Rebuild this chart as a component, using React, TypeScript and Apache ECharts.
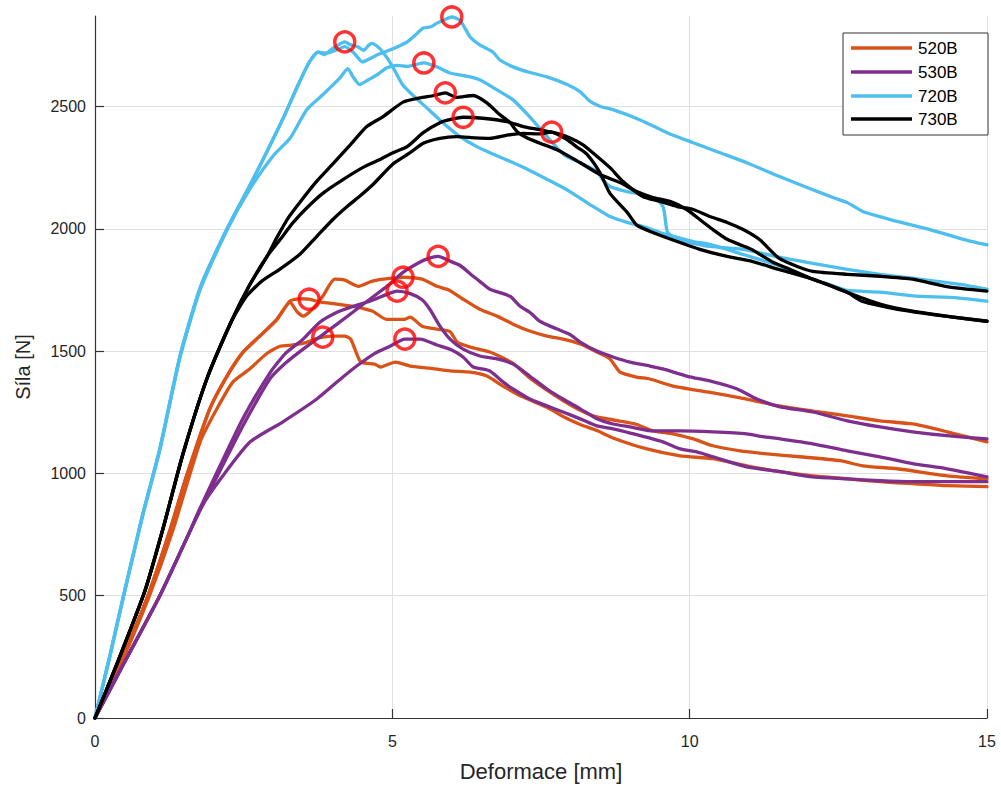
import React, { useEffect, useRef } from "react";
import * as echarts from "echarts";

// ---- data ----
const groupNames = ["520B", "530B", "720B", "730B"];
const groupColors = ["#D95319", "#7E2F8E", "#4DBEEE", "#000000"];
const xTicks = [0, 5, 10, 15];
const yTicks = [0, 500, 1000, 1500, 2000, 2500];

// 520B
const o1 = [[0,0],[0.45,240],[0.89,500],[1.25,760],[1.54,990],[1.93,1264],[2.22,1398],[2.49,1496],[2.77,1561],[3.06,1630],[3.28,1705],[3.45,1714],[3.6,1712],[3.8,1700],[4.07,1692],[4.4,1680],[4.67,1663],[4.9,1630],[5.2,1630],[5.3,1639],[5.5,1602],[5.75,1590],[5.97,1580],[6.09,1537],[6.31,1516],[6.64,1496],[7.03,1450],[7.31,1390],[7.6,1340],[7.87,1298],[8.16,1258],[8.44,1231],[8.8,1215],[9.11,1200],[9.38,1174],[9.72,1162],[10.06,1141],[10.39,1113],[10.85,1092],[11.3,1080],[11.85,1068],[12.53,1052],[12.91,1031],[13.49,1019],[14.33,990],[15,978]];
const o2 = [[0,0],[0.45,240],[0.89,500],[1.25,760],[1.54,990],[1.93,1264],[2.22,1398],[2.49,1496],[2.77,1561],[3.06,1630],[3.28,1700],[3.4,1660],[3.5,1643],[3.65,1670],[3.83,1724],[4.03,1794],[4.2,1790],[4.43,1765],[4.65,1785],[4.84,1794],[5.0,1798],[5.18,1802],[5.5,1794],[5.75,1765],[5.95,1750],[6.19,1712],[6.47,1671],[6.76,1643],[7.03,1610],[7.31,1582],[7.6,1561],[7.87,1549],[8.16,1529],[8.44,1496],[8.66,1468],[8.83,1414],[9.11,1394],[9.33,1386],[9.72,1357],[10.3,1333],[10.96,1304],[11.5,1276],[12.07,1255],[12.65,1235],[13.2,1215],[13.75,1202],[14.33,1170],[15,1129]];
const o3 = [[0,0],[0.45,230],[0.9,490],[1.3,760],[1.77,1130],[2.05,1264],[2.32,1374],[2.6,1427],[2.89,1490],[3.11,1520],[3.33,1525],[3.55,1535],[3.7,1549],[3.83,1557],[4.0,1561],[4.2,1561],[4.3,1549],[4.37,1508],[4.47,1455],[4.7,1447],[4.8,1435],[5.05,1455],[5.3,1439],[5.63,1430],[5.97,1419],[6.31,1414],[6.59,1398],[6.86,1357],[7.2,1312],[7.6,1270],[7.87,1233],[8.16,1200],[8.44,1175],[8.71,1145],[9.28,1100],[9.84,1072],[10.39,1060],[10.96,1031],[11.52,1007],[12.07,990],[12.65,978],[13.2,966],[13.75,958],[14.33,950],[15,946]];

// 530B
const u1 = [[0,0],[0.5,230],[1.09,500],[1.6,765],[1.77,850],[2.1,1010],[2.5,1200],[2.94,1386],[3.2,1450],[3.5,1508],[4.07,1610],[4.62,1712],[4.91,1765],[5.18,1822],[5.46,1863],[5.6,1878],[5.77,1887],[5.95,1870],[6.14,1850],[6.36,1806],[6.47,1785],[6.64,1753],[6.98,1724],[7.15,1683],[7.31,1659],[7.48,1622],[7.77,1590],[7.98,1569],[8.16,1537],[8.44,1500],[8.71,1476],[9.0,1455],[9.33,1439],[9.55,1427],[9.95,1398],[10.4,1374],[10.8,1345],[11.13,1304],[11.52,1272],[12.07,1251],[12.65,1215],[13.2,1190],[13.75,1170],[14.33,1154],[15,1141]];
const u2 = [[0,0],[0.5,230],[1.09,500],[1.6,765],[1.77,860],[2.1,1030],[2.5,1230],[2.94,1410],[3.2,1490],[3.5,1549],[3.78,1618],[4.07,1659],[4.34,1683],[4.62,1704],[4.91,1732],[5.08,1745],[5.3,1735],[5.5,1710],[5.63,1671],[5.8,1602],[5.97,1549],[6.19,1508],[6.47,1480],[6.76,1468],[7.03,1447],[7.31,1398],[7.6,1345],[7.87,1304],[8.16,1264],[8.44,1223],[8.71,1202],[9.0,1190],[9.38,1174],[9.84,1174],[10.39,1170],[10.96,1162],[11.23,1150],[11.52,1141],[12.07,1121],[12.65,1092],[13.2,1068],[13.75,1040],[14.33,1019],[15,986]];
const u3 = [[0,0],[0.5,230],[1.09,500],[1.6,765],[1.77,856],[2.15,990],[2.61,1129],[3.16,1211],[3.73,1304],[4.1,1380],[4.4,1439],[4.7,1490],[4.96,1520],[5.21,1549],[5.47,1549],[5.75,1525],[6.0,1505],[6.19,1476],[6.36,1435],[6.64,1419],[6.86,1374],[7.03,1345],[7.31,1304],[7.6,1276],[7.87,1251],[8.16,1223],[8.44,1194],[8.71,1182],[9.0,1165],[9.55,1129],[9.84,1100],[10.12,1088],[10.39,1068],[10.96,1027],[11.52,1007],[12.07,986],[12.65,978],[13.2,970],[13.75,966],[14.33,966],[15,966]];

// 720B
const c1 = [[0,0],[0.25,255],[0.48,500],[0.8,830],[1.09,1100],[1.43,1480],[1.77,1760],[2.22,2000],[2.61,2180],[2.9,2320],[3.16,2450],[3.4,2580],[3.6,2680],[3.75,2722],[3.9,2718],[4.05,2730],[4.2,2745],[4.35,2720],[4.5,2682],[4.62,2695],[4.74,2711],[4.96,2731],[5.1,2745],[5.25,2764],[5.4,2795],[5.52,2821],[5.65,2826],[5.75,2841],[5.88,2855],[6.0,2866],[6.14,2852],[6.22,2820],[6.31,2784],[6.47,2752],[6.69,2723],[6.81,2690],[7.03,2662],[7.3,2640],[7.6,2621],[7.94,2590],[8.16,2560],[8.32,2522],[8.5,2500],[8.71,2487],[9.16,2446],[9.62,2393],[10.06,2352],[10.51,2311],[10.96,2270],[11.52,2213],[12.07,2160],[12.41,2128],[12.65,2107],[12.91,2071],[13.2,2050],[13.49,2030],[14.04,1997],[14.6,1957],[15,1934]];
const c2 = [[0,0],[0.25,250],[0.48,497],[0.8,825],[1.09,1095],[1.43,1475],[1.77,1752],[2.22,1995],[2.61,2165],[3.0,2300],[3.28,2370],[3.56,2487],[3.83,2548],[4.12,2617],[4.25,2655],[4.34,2621],[4.45,2590],[4.57,2605],[4.74,2629],[4.91,2658],[5.08,2668],[5.25,2664],[5.4,2672],[5.53,2678],[5.75,2662],[5.97,2637],[6.31,2621],[6.47,2609],[6.76,2568],[7.03,2527],[7.31,2458],[7.52,2400],[7.7,2350],[7.9,2300],[8.16,2270],[8.44,2234],[8.54,2201],[8.66,2173],[8.95,2152],[9.21,2140],[9.45,2120],[9.55,2091],[9.58,2058],[9.6,2018],[9.63,1985],[9.79,1957],[10.34,1928],[10.9,1916],[11.52,1883],[12.07,1859],[12.65,1834],[13.2,1814],[13.75,1798],[14.55,1773],[15,1753]];
const c3 = [[0,0],[0.25,255],[0.48,500],[0.8,830],[1.09,1100],[1.43,1480],[1.77,1760],[2.22,2000],[2.61,2180],[2.9,2320],[3.16,2450],[3.4,2580],[3.6,2680],[3.75,2722],[3.85,2712],[4.0,2738],[4.2,2764],[4.3,2752],[4.42,2744],[4.52,2730],[4.6,2750],[4.66,2758],[4.75,2745],[4.85,2720],[5.0,2665],[5.17,2590],[5.35,2545],[5.6,2490],[5.85,2434],[6.14,2377],[6.42,2336],[6.7,2305],[7.2,2252],[7.7,2190],[8.0,2150],[8.35,2095],[8.66,2050],[8.95,2026],[9.21,2010],[9.5,1985],[9.79,1965],[10.06,1948],[10.34,1936],[10.9,1895],[11.5,1850],[12.0,1800],[12.4,1768],[12.65,1748],[13.2,1741],[13.75,1726],[14.5,1718],[15,1704]];

// 730B
const b1 = [[0,0],[0.4,240],[0.84,520],[1.15,780],[1.48,1080],[1.88,1386],[2.3,1625],[2.6,1770],[2.9,1890],[3.06,1965],[3.25,2045],[3.45,2110],[3.73,2195],[4.0,2265],[4.3,2345],[4.57,2418],[4.84,2458],[5.18,2518],[5.46,2535],[5.7,2545],[5.89,2556],[6.08,2537],[6.36,2545],[6.59,2515],[6.81,2466],[6.98,2434],[7.1,2397],[7.26,2372],[7.48,2350],[7.77,2323],[8.16,2270],[8.49,2222],[8.83,2189],[9.11,2152],[9.38,2128],[9.67,2112],[9.95,2079],[10.17,2038],[10.39,1997],[10.63,1957],[10.9,1930],[11.07,1912],[11.4,1863],[11.69,1834],[12.07,1794],[12.4,1765],[12.65,1740],[12.9,1704],[13.5,1671],[14.3,1643],[15,1622]];
const b2 = [[0,0],[0.4,240],[0.84,520],[1.15,780],[1.48,1080],[1.88,1386],[2.3,1625],[2.6,1770],[2.9,1890],[3.11,1955],[3.33,2025],[3.56,2085],[3.83,2145],[4.17,2201],[4.5,2250],[4.79,2283],[5.01,2311],[5.25,2336],[5.52,2393],[5.8,2434],[6.0,2448],[6.19,2456],[6.52,2452],[6.93,2438],[7.2,2418],[7.48,2405],[7.77,2390],[8.0,2370],[8.2,2344],[8.37,2311],[8.66,2250],[8.88,2193],[9.21,2132],[9.5,2112],[9.79,2091],[10.06,2079],[10.34,2050],[10.63,2026],[10.9,1997],[11.18,1955],[11.5,1880],[11.8,1847],[12.07,1826],[12.65,1814],[13.2,1806],[13.75,1794],[14.3,1765],[15,1745]];
const b3 = [[0,0],[0.4,240],[0.84,520],[1.15,780],[1.48,1080],[1.88,1386],[2.3,1625],[2.55,1725],[2.8,1785],[3.11,1835],[3.45,1897],[3.73,1969],[4.0,2038],[4.24,2091],[4.46,2135],[4.67,2180],[5.01,2265],[5.3,2311],[5.52,2350],[5.8,2370],[6.08,2377],[6.4,2372],[6.64,2370],[6.93,2383],[7.2,2390],[7.45,2388],[7.68,2395],[7.94,2364],[8.1,2335],[8.27,2305],[8.49,2230],[8.66,2145],[8.95,2067],[9.11,2015],[9.38,1985],[9.79,1948],[10.17,1916],[10.63,1887],[11.0,1870],[11.5,1834],[12.07,1794],[12.65,1740],[13.2,1692],[13.75,1663],[14.4,1640],[15,1622]];

const peaks = [[3.6,1712],[5.18,1802],[3.83,1557],[5.77,1887],[5.08,1745],[5.21,1549],[6.0,2866],[5.53,2678],[4.2,2764],[5.89,2556],[6.19,2456],[7.68,2395]];

const groups = [[o1, o2, o3], [u1, u2, u3], [c1, c2, c3], [b1, b2, b3]];

const FONT = "'Liberation Sans', Arial, Helvetica, sans-serif";
const TXT = "#262626";

export default function App() {
  const ref = useRef<HTMLDivElement>(null);
  useEffect(() => {
    if (!ref.current) return;
    const chart = echarts.init(ref.current, undefined, { renderer: "svg" });
    const series: any[] = [];
    groups.forEach((g, gi) => {
      g.forEach((d) => {
        series.push({
          type: "line",
          name: groupNames[gi],
          data: d,
          showSymbol: false,
          symbol: "none",
          smooth: 0.2,
          lineStyle: { width: 3.3, color: groupColors[gi], join: "round", cap: "round" },
          itemStyle: { color: groupColors[gi] },
          z: 2 + gi,
          silent: true,
        });
      });
    });
    series.push({
      type: "scatter",
      data: peaks,
      symbol: "circle",
      symbolSize: 20,
      itemStyle: { color: "rgba(0,0,0,0)", borderColor: "#FF0000", borderWidth: 3.5 },
      z: 20,
      silent: true,
    });

    const legendX = 843, legendY = 33, legendW = 145, legendH = 102;
    const rowY = [48, 72, 96, 119];
    const legendEls: any[] = [
      {
        type: "rect",
        shape: { x: legendX, y: legendY, width: legendW, height: legendH },
        style: { fill: "#fff", stroke: "#333", lineWidth: 1 },
        z: 100,
      },
    ];
    groupNames.forEach((n, i) => {
      legendEls.push({
        type: "line",
        shape: { x1: 851, y1: rowY[i], x2: 912, y2: rowY[i] },
        style: { stroke: groupColors[i], lineWidth: 3.3 },
        z: 101,
      });
      legendEls.push({
        type: "text",
        x: 918,
        y: rowY[i],
        style: { text: n, fill: "#000", font: `17px ${FONT}`, textVerticalAlign: "middle", textAlign: "left" },
        z: 101,
      });
    });

    chart.setOption({
      animation: false,
      backgroundColor: "#fff",
      grid: { left: 95, right: 14, top: 16, bottom: 67, containLabel: false },
      xAxis: {
        type: "value",
        min: 0,
        max: 15,
        interval: 5,
        name: "Deformace [mm]",
        nameLocation: "middle",
        nameGap: 42,
        nameTextStyle: { fontSize: 22, color: TXT, fontFamily: FONT },
        axisLine: { show: true, lineStyle: { color: "#333", width: 1.2 } },
        axisTick: { show: true, inside: true, length: 9, lineStyle: { color: "#333", width: 1.2 } },
        axisLabel: { fontSize: 16, color: TXT, fontFamily: FONT, margin: 15, customValues: xTicks, formatter: (v: number) => String(v) },
        splitLine: { show: true, lineStyle: { color: "#dfdfdf", width: 1 } },
      },
      yAxis: {
        type: "value",
        min: 0,
        max: 2870,
        interval: 500,
        name: "Síla [N]",
        nameLocation: "middle",
        nameGap: 62,
        nameRotate: 90,
        nameTextStyle: { fontSize: 20, color: TXT, fontFamily: FONT },
        axisLine: { show: true, lineStyle: { color: "#333", width: 1.2 } },
        axisTick: { show: true, inside: true, length: 9, lineStyle: { color: "#333", width: 1.2 }, customValues: yTicks },
        axisLabel: { fontSize: 16, color: TXT, fontFamily: FONT, margin: 9, customValues: yTicks, formatter: (v: number) => String(v) },
        splitLine: { show: true, lineStyle: { color: "#dfdfdf", width: 1 } },
      },
      series,
      graphic: legendEls,
    });
    return () => chart.dispose();
  }, []);
  return <div ref={ref} style={{ position: "absolute", left: 0, top: 0, width: 1001, height: 787 }} />;
}
